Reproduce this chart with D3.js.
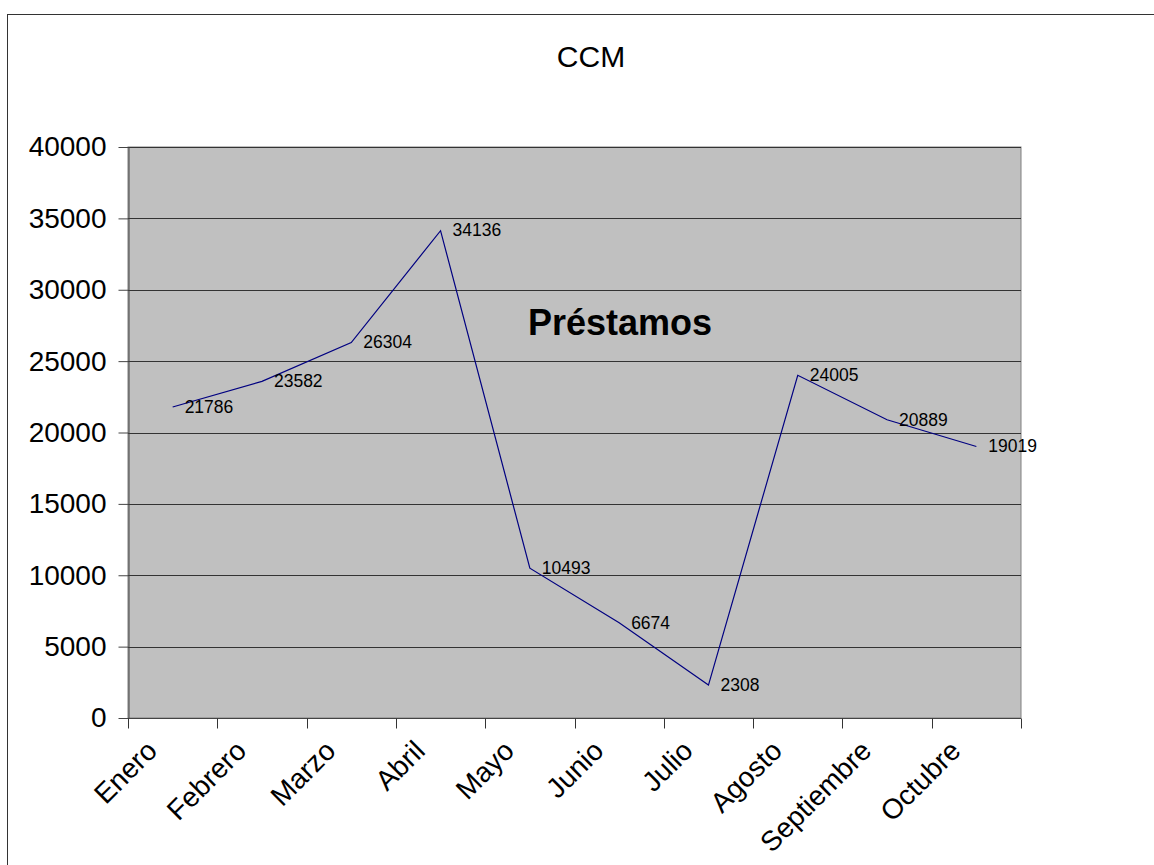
<!DOCTYPE html>
<html>
<head>
<meta charset="utf-8">
<script src="https://cdn.jsdelivr.net/npm/d3@7"></script>
<style>
  body { margin: 0; background: #fff; }
  svg { font-family: Arial, "Liberation Sans", sans-serif; display: block; }
</style>
</head>
<body>
<svg></svg>
<script>
const MONTHS = ['Enero', 'Febrero', 'Marzo', 'Abril', 'Mayo', 'Junio', 'Julio', 'Agosto', 'Septiembre', 'Octubre'];
const VALUES = [21786, 23582, 26304, 34136, 10493, 6674, 2308, 24005, 20889, 19019];
const Y_TICKS = [0, 5000, 10000, 15000, 20000, 25000, 30000, 35000, 40000];

const WIDTH = 1154;
const HEIGHT = 865;
const PLOT = { left: 128, top: 147, right: 1021, bottom: 718 };

const svg = d3.select('svg')
    .attr('width', WIDTH)
    .attr('height', HEIGHT);

// marco exterior
svg.append('rect')
    .attr('x', 7.5).attr('y', 14.5)
    .attr('width', WIDTH).attr('height', HEIGHT)
    .attr('fill', '#fff')
    .attr('stroke', '#333');

const x = d3.scaleBand().domain(MONTHS).range([PLOT.left, PLOT.right]);
const y = d3.scaleLinear().domain([0, 40000]).range([PLOT.bottom, PLOT.top]);

// fondo del area de trazado
svg.append('rect')
    .attr('x', PLOT.left).attr('y', PLOT.top)
    .attr('width', PLOT.right - PLOT.left)
    .attr('height', PLOT.bottom - PLOT.top)
    .attr('fill', '#c0c0c0')
    .attr('stroke', '#808080');

// lineas de cuadricula
svg.append('g')
    .selectAll('line')
    .data(Y_TICKS.slice(1))
    .enter()
    .append('line')
    .attr('x1', PLOT.left).attr('x2', PLOT.right)
    .attr('y1', d => Math.round(y(d)) + 0.5)
    .attr('y2', d => Math.round(y(d)) + 0.5)
    .attr('stroke', '#333');

// eje y
const yAxis = svg.append('g')
    .attr('transform', `translate(${PLOT.left + 0.5},0)`)
    .call(d3.axisLeft(y).tickValues(Y_TICKS).tickSize(10).tickSizeOuter(0).tickPadding(12).tickFormat(d3.format('d')));
yAxis.select('.domain').attr('stroke', '#444');
yAxis.selectAll('line').attr('stroke', '#444');
yAxis.selectAll('text').attr('font-size', 28).attr('fill', '#000');

// eje x (marcas en los limites de categoria)
const xAxis = svg.append('g')
    .attr('transform', `translate(0,${PLOT.bottom + 0.5})`);
xAxis.append('line')
    .attr('x1', PLOT.left).attr('x2', PLOT.right)
    .attr('stroke', '#444');
xAxis.selectAll('.tick')
    .data(MONTHS.concat(['fin']))
    .enter()
    .append('line')
    .attr('x1', (d, i) => Math.round(PLOT.left + i * x.bandwidth()) + 0.5)
    .attr('x2', (d, i) => Math.round(PLOT.left + i * x.bandwidth()) + 0.5)
    .attr('y1', 0).attr('y2', 10)
    .attr('stroke', '#333');
xAxis.selectAll('.label')
    .data(MONTHS)
    .enter()
    .append('text')
    .attr('transform', d => `translate(${x(d) + x.bandwidth() / 2 - 14},34) rotate(-45)`)
    .attr('text-anchor', 'end')
    .attr('font-size', 28)
    .text(d => d);

// titulo
svg.append('text')
    .attr('x', 591).attr('y', 67)
    .attr('text-anchor', 'middle')
    .attr('font-size', 30)
    .text('CCM');

svg.append('text')
    .attr('x', 620).attr('y', 335)
    .attr('text-anchor', 'middle')
    .attr('font-size', 36)
    .attr('font-weight', 'bold')
    .text('Préstamos');

// serie
const line = d3.line()
    .x((d, i) => x(MONTHS[i]) + x.bandwidth() / 2)
    .y(d => y(d));

svg.append('path')
    .datum(VALUES)
    .attr('d', line)
    .attr('fill', 'none')
    .attr('stroke', '#000080')
    .attr('stroke-width', 1.2);

svg.append('g')
    .selectAll('text')
    .data(VALUES)
    .enter()
    .append('text')
    .attr('x', (d, i) => x(MONTHS[i]) + x.bandwidth() / 2 + 12)
    .attr('y', d => y(d))
    .attr('dy', '0.33em')
    .attr('font-size', 17.5)
    .text(d => d);
</script>
</body>
</html>
